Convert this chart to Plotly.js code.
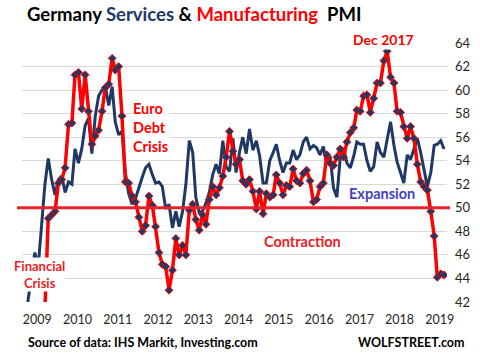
<!DOCTYPE html>
<html>
<head>
<meta charset="utf-8">
<script src="https://cdn.plot.ly/plotly-3.0.1.min.js"></script>
<style>html,body{margin:0;padding:0;background:#fff;}#chart{width:480px;height:357px;}</style>
</head>
<body>
<div id="chart"></div>
<script>
// Monthly series, first month = Dec 2008
var startYear = 2008, startMonth = 12;

// Germany Services PMI (Dec 2008 ... May 2019)
var services = [
  39.0,
  42.3, 44.2, 46.2, 45.0, 48.3, 52.0, 54.2, 52.4, 51.1, 52.4, 52.7, 51.3,
  52.2, 52.0, 55.0, 53.8, 55.0, 57.0, 57.6, 54.6, 57.8, 59.5, 60.0, 60.3,
  58.7, 60.3, 57.3, 56.2, 56.5, 53.0, 51.2, 50.3, 50.8, 51.8, 52.6, 53.4,
  53.7, 52.8, 52.1, 52.2, 51.8, 49.9, 50.3, 48.3, 49.7, 48.4, 49.7, 52.0,
  55.7, 54.7, 50.9, 49.6, 49.7, 50.4, 51.3, 52.8, 53.7, 52.9, 55.7, 53.5,
  53.1, 55.9, 53.0, 54.7, 56.0, 54.6, 56.7, 54.9, 55.7, 54.4, 52.1, 52.1,
  54.0, 54.7, 55.4, 54.0, 53.0, 53.8, 53.8, 54.9, 54.1, 54.5, 55.6, 56.0,
  55.0, 55.3, 55.1, 54.5, 55.2, 53.7, 54.4, 51.7, 50.9, 54.2, 55.1, 53.8,
  53.4, 54.4, 55.6, 55.4, 55.4, 54.0, 53.1, 53.5, 55.6, 54.7, 54.3, 55.8,
  57.3, 55.3, 53.9, 53.0, 52.1, 54.5, 54.1, 55.0, 55.9, 54.7, 53.3, 51.8,
  53.0, 55.3, 55.4, 55.7, 55.0
];

// Germany Manufacturing PMI (Dec 2008 ... May 2019); early values are below the axis
var manufacturing = [
  null,
  null, null, null, null, null, 41.4, 49.1, 49.4, 49.7, 52.1, 52.4, 53.4,
  57.1, 57.2, 61.3, 61.5, 58.4, 61.3, 58.2, 55.4, 56.1, 56.6, 58.2, 60.2,
  60.5, 62.7, 61.7, 62.0, 57.8, 52.2, 52.1, 51.0, 50.5, 49.2, 48.0, 48.5,
  51.0, 50.2, 48.4, 46.2, 45.2, 45.0, 43.0, 44.7, 47.4, 46.0, 46.8, 46.0,
  49.8, 50.3, 49.0, 48.1, 49.4, 48.6, 50.7, 51.8, 51.1, 51.7, 52.7, 54.3,
  56.5, 54.8, 53.7, 54.1, 52.3, 52.0, 52.4, 51.4, 49.9, 51.4, 49.5, 51.2,
  50.9, 51.1, 52.8, 52.1, 51.1, 51.9, 51.8, 53.3, 52.3, 52.1, 52.9, 53.2,
  52.3, 50.5, 50.7, 51.8, 52.1, 54.5, 53.8, 53.6, 54.3, 55.0, 54.3, 55.6,
  56.4, 56.8, 58.3, 58.2, 59.5, 59.6, 58.1, 59.3, 60.6, 60.6, 62.5, 63.3,
  61.1, 60.6, 58.2, 58.1, 56.9, 55.9, 56.9, 55.9, 53.7, 52.2, 51.8, 51.5,
  49.7, 47.6, 44.1, 44.4, 44.3
];

var yearLabels = ["2009","2010","2011","2012","2013","2014","2015","2016","2017","2018","2019"];
var yTicks = [42,44,46,48,50,52,54,56,58,60,62,64];
var threshold = 50;

// build month dates
var months = [];
for (var i = 0; i < services.length; i++) {
  var m = startMonth - 1 + i;
  var y = startYear + Math.floor(m / 12);
  var mm = (m % 12) + 1;
  months.push(y + "-" + (mm < 10 ? "0" + mm : mm) + "-01");
}
var tickVals = yearLabels.map(function (y) { return y + "-03-24"; });

var navy = "#203864", red = "#ff0000";

var traces = [
  {
    x: months, y: services, type: "scatter", mode: "lines",
    line: {color: navy, width: 3}, hoverinfo: "skip", name: "Services"
  },
  {
    x: months, y: manufacturing, type: "scatter", mode: "lines+markers",
    line: {color: red, width: 3.5},
    marker: {symbol: "diamond", size: 6, color: navy, line: {color: red, width: 1}},
    hoverinfo: "skip", name: "Manufacturing", connectgaps: false
  }
];

var F = "Lato, 'Open Sans', sans-serif";
function ann(text, x, y, opts) {
  var a = {
    text: text, xref: "paper", yref: "paper",
    x: (x - 22) / 425, y: (302 - y) / 259,
    showarrow: false, xanchor: "center", yanchor: "middle",
    font: {family: F, size: 14, color: red}
  };
  for (var k in opts) a[k] = opts[k];
  return a;
}

var layout = {
  width: 480, height: 357,
  margin: {l: 22, r: 33, t: 43, b: 55},
  paper_bgcolor: "#ffffff", plot_bgcolor: "#ffffff",
  showlegend: false,
  title: {
    text: '<b>Germany <span style="color:' + navy + '">Services</span> &amp; <span style="color:#ff0000">Manufacturing</span> &nbsp;PMI</b>',
    font: {family: F, size: 18.5, color: "#000"},
    xref: "container", yref: "container", x: 27 / 480, xanchor: "left",
    y: 1 - 15 / 357, yanchor: "middle"
  },
  xaxis: {
    type: "date", range: ["2008-11-05", "2019-05-28"],
    tickmode: "array", tickvals: tickVals, ticktext: yearLabels,
    showgrid: false, zeroline: false, showline: false, ticks: "",
    tickfont: {family: F, size: 12.5, color: "#262626"},
    ticklabelstandoff: 8, fixedrange: true
  },
  yaxis: {
    side: "right", range: [42, 64], tickmode: "array", tickvals: yTicks,
    showgrid: true, gridcolor: "#d9d9d9", gridwidth: 1,
    zeroline: false, showline: false, ticks: "",
    tickfont: {family: F, size: 13, color: "#262626"},
    ticklabelstandoff: 7, fixedrange: true
  },
  shapes: [{
    type: "line", xref: "paper", yref: "y",
    x0: (17 - 22) / 425, x1: (450 - 22) / 425, y0: threshold, y1: threshold,
    line: {color: "#e8202a", width: 3}, layer: "above"
  }],
  annotations: [
    ann("<b>Dec 2017</b>", 383, 39, {bgcolor: "#fff", font: {family: F, size: 14, color: red}}),
    ann("<b>Euro<br>Debt<br>Crisis</b>", 131, 127, {xanchor: "left", align: "left", bgcolor: "#fff", font: {family: F, size: 14.5, color: red}}),
    ann("<b>Financial<br>Crisis</b>", 39, 274.5, {bgcolor: "#fff", borderpad: 0, font: {family: F, size: 13, color: "#ed1c24"}}),
    ann("<b>Contraction</b>", 302.5, 241.5, {font: {family: F, size: 14.5, color: "#ed1c24"}}),
    ann("<b>Expansion</b>", 381.5, 193, {font: {family: F, size: 14.5, color: "#3f3fbf"}}),
    ann("<b>Source of data: IHS Markit, Investing.com</b>", 26, 342.5, {xanchor: "left", font: {family: F, size: 12.5, color: "#000"}}),
    ann("<b>WOLFSTREET.com</b>", 467, 342, {xanchor: "right", font: {family: F, size: 12.5, color: "#000"}})
  ]
};

Plotly.newPlot("chart", traces, layout, {staticPlot: true, displayModeBar: false});
</script>
</body>
</html>
